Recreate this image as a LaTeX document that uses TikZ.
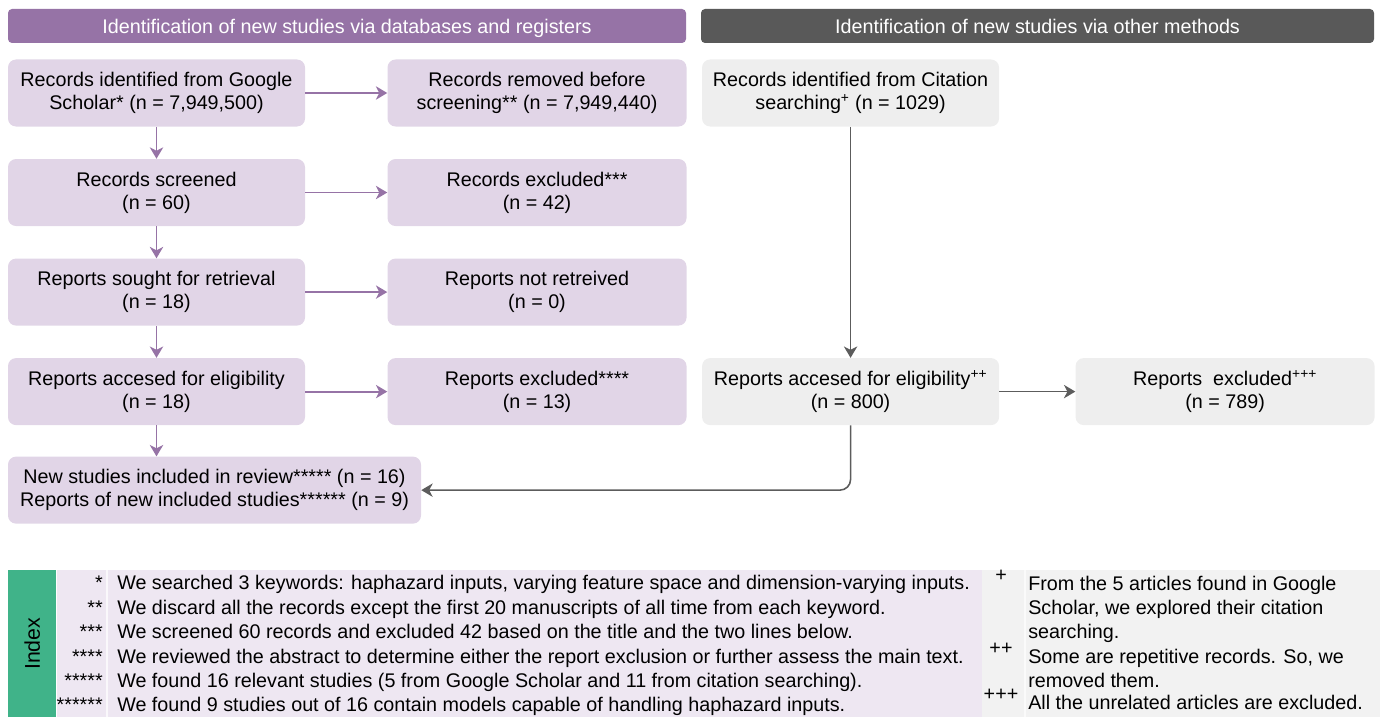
\documentclass[tikz,border=0pt]{standalone}
\usepackage{fontspec}
\setmainfont{Liberation Sans}
\usepackage{tikz}
\usetikzlibrary{positioning,shapes,arrows.meta,calc}

\definecolor{headpurple}{HTML}{9673A6}
\definecolor{headgray}{HTML}{595959}
\definecolor{boxpurple}{HTML}{E1D5E7}
\definecolor{boxgray}{HTML}{EEEEEE}
\definecolor{linepurple}{HTML}{9673A6}
\definecolor{linegray}{HTML}{5C5C5C}
\definecolor{indexgreen}{HTML}{40B389}
\definecolor{indexpurple}{HTML}{EEE7F2}
\definecolor{indexgray}{HTML}{F2F2F2}

\newcommand{\boxfont}{\fontsize{14.8}{17.4}\selectfont}
\newcommand{\headfont}{\fontsize{14.8}{16}\selectfont}
\newcommand{\notefont}{\fontsize{14.8}{16}\selectfont}

\begin{document}
\begin{tikzpicture}[x=0.75pt, y=-0.75pt, node distance=24pt and 61.5pt,
    header/.style={rectangle, rounded corners=3pt, text=white, minimum height=25.5pt, inner sep=0pt, text depth=0pt, font=\headfont},
    purplebox/.style={rectangle, rounded corners=6pt, fill=boxpurple, minimum width=222.75pt, minimum height=50.25pt, inner sep=0pt, align=center, font=\boxfont},
    graybox/.style={purplebox, fill=boxgray},
    parrow/.style={draw=linepurple, line width=1.4pt, -{Stealth[length=8.5pt, width=10pt, inset=2.5pt]}},
    garrow/.style={draw=linegray, line width=1.2pt, -{Stealth[length=8.5pt, width=10pt, inset=2.5pt]}},
    idxmark/.style={inner sep=0pt, font=\notefont, anchor=base east},
    idxtext/.style={inner sep=0pt, font=\notefont, anchor=base west}]
    \useasboundingbox (0,0) rectangle (1380,717);

    % headers
    \node[header, fill=headpurple, minimum width=508.5pt](head-db) at (347,26){Identification of new studies via databases and registers};
    \node[header, fill=headgray, minimum width=504.75pt](head-other) at (1037.5,26){Identification of new studies via other methods};

    % databases and registers
    \node[purplebox](rec-id) at (156.5,93){Records identified from Google\\Scholar* (n = 7,949,500)};
    \node[purplebox, minimum width=224.25pt, right=of rec-id](rec-rem){Records removed before\\screening** (n = 7,949,440)};
    \draw[parrow](rec-id)--(rec-rem);
    \node[purplebox, below=of rec-id](rec-scr){Records screened\\(n = 60)};
    \draw[parrow](rec-id)--(rec-scr);
    \node[purplebox, minimum width=224.25pt, right=of rec-scr](rec-exc){Records excluded***\\(n = 42)};
    \draw[parrow](rec-scr)--(rec-exc);
    \node[purplebox, below=of rec-scr](rep-sought){Reports sought for retrieval\\(n = 18)};
    \draw[parrow](rec-scr)--(rep-sought);
    \node[purplebox, minimum width=224.25pt, right=of rep-sought](rep-notret){Reports not retreived\\(n = 0)};
    \draw[parrow](rep-sought)--(rep-notret);
    \node[purplebox, below=of rep-sought](rep-elig){Reports accesed for eligibility\\(n = 18)};
    \draw[parrow](rep-sought)--(rep-elig);
    \node[purplebox, minimum width=224.25pt, right=of rep-elig](rep-exc){Reports excluded****\\(n = 13)};
    \draw[parrow](rep-elig)--(rep-exc);
    \node[purplebox, minimum width=309.75pt, below right=23.25pt and 0pt of rep-elig.south west](incl){New studies included in review***** (n = 16)\\Reports of new included studies****** (n = 9)};
    \draw[parrow](rep-elig.south)--(rep-elig.south |- incl.north);

    % other methods
    \node[graybox, right=11.25pt of rec-rem](cit-id){Records identified from Citation\\searching\textsuperscript{+} (n = 1029)};
    \node[graybox](cit-elig) at (cit-id |- rep-elig){Reports accesed for eligibility\textsuperscript{++}\\(n = 800)};
    \draw[garrow](cit-id)--(cit-elig);
    \node[graybox, minimum width=224.25pt, right=57pt of cit-elig](cit-exc){Reports\ \ excluded\textsuperscript{+++}\\(n = 789)};
    \draw[garrow](cit-elig)--(cit-exc);
    \draw[garrow, rounded corners=8pt](cit-elig.south) |- (incl.east);

    % index
    \node[rectangle, fill=indexgreen, minimum width=36pt, minimum height=110.25pt, inner sep=0pt, anchor=north west](idx) at (8,570){};
    \node[rotate=90, font=\fontsize{16}{18}\selectfont](idx-label) at (idx.center){Index};
    \node[rectangle, fill=indexpurple, minimum width=693.75pt, minimum height=110.25pt, inner sep=0pt, anchor=north west](idx-db) at (57,570){};
    \node[rectangle, fill=indexgray, minimum width=298.5pt, minimum height=110.25pt, inner sep=0pt, anchor=north west](idx-other) at (982,570){};
    \draw[white!70!indexpurple, line width=1pt](107,570)--(107,717);
    \draw[white!60!indexgray, line width=1pt](1025,570)--(1025,717);

    \node[idxmark](mark-1) at (103,589.5){*};
    \node[idxtext](note-1) at (117,589.5){We searched 3 keywords: haphazard inputs, varying feature space and dimension-varying inputs.};
    \node[idxmark](mark-2) at (103,614){**};
    \node[idxtext](note-2) at (117,614){We discard all the records except the first 20 manuscripts of all time from each keyword.};
    \node[idxmark](mark-3) at (103,638.5){***};
    \node[idxtext](note-3) at (117,638.5){We screened 60 records and excluded 42 based on the title and the two lines below.};
    \node[idxmark](mark-4) at (103,663){****};
    \node[idxtext](note-4) at (117,663){We reviewed the abstract to determine either the report exclusion or further assess the main text.};
    \node[idxmark](mark-5) at (103,687.5){*****};
    \node[idxtext](note-5) at (117,687.5){We found 16 relevant studies (5 from Google Scholar and 11 from citation searching).};
    \node[idxmark](mark-6) at (103,711.5){******};
    \node[idxtext](note-6) at (117,711.5){We found 9 studies out of 16 contain models capable of handling haphazard inputs.};

    \node[inner sep=0pt, font=\notefont, anchor=base](plus-1) at (1001,581){+};
    \node[idxtext](cnote-1) at (1028,590){From the 5 articles found in Google};
    \node[idxtext](cnote-2) at (1028,614){Scholar, we explored their citation};
    \node[idxtext](cnote-3) at (1028,638){searching.};
    \node[inner sep=0pt, font=\notefont, anchor=base](plus-2) at (1001,654){++};
    \node[idxtext](cnote-4) at (1028,663){Some are repetitive records. So, we};
    \node[idxtext](cnote-5) at (1028,687){removed them.};
    \node[inner sep=0pt, font=\notefont, anchor=base](plus-3) at (1001,700){+++};
    \node[idxtext](cnote-6) at (1028,709){All the unrelated articles are excluded.};
\end{tikzpicture}
\end{document}
